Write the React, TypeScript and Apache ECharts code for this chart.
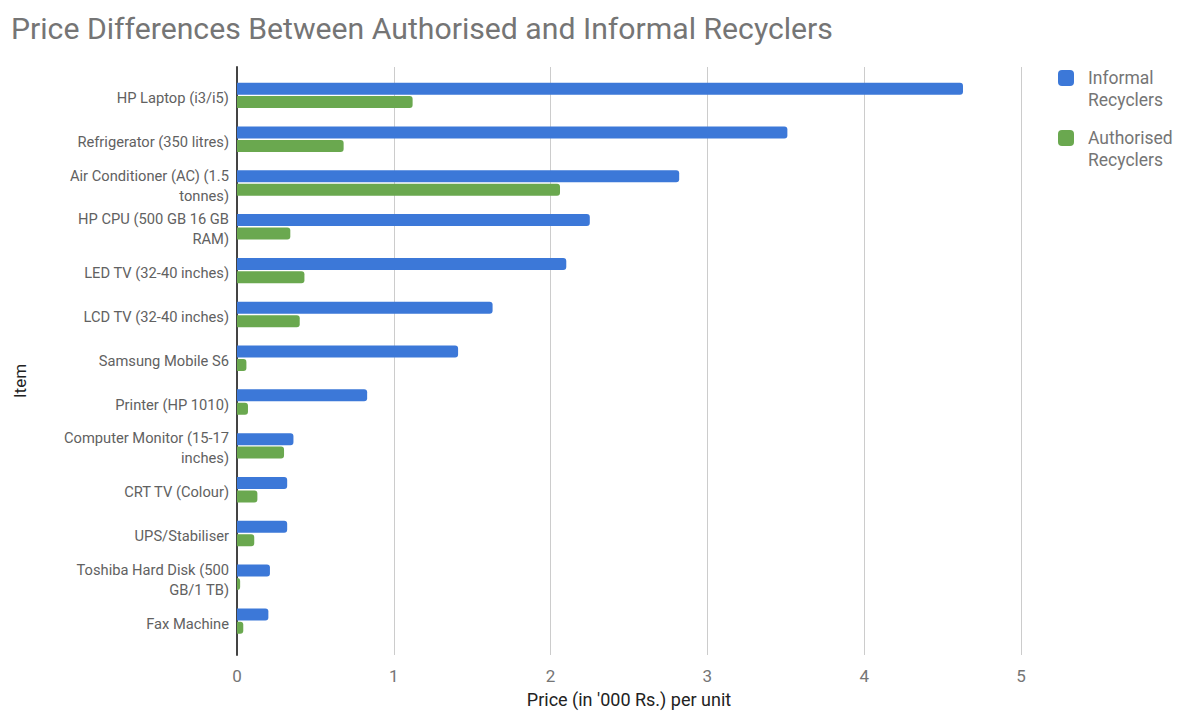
import React, { useEffect, useRef } from "react";
import * as echarts from "echarts";

const categories = [
  "HP Laptop (i3/i5)",
  "Refrigerator (350 litres)",
  "Air Conditioner (AC) (1.5\ntonnes)",
  "HP CPU (500 GB 16 GB\nRAM)",
  "LED TV (32-40 inches)",
  "LCD TV (32-40 inches)",
  "Samsung Mobile S6",
  "Printer (HP 1010)",
  "Computer Monitor (15-17\ninches)",
  "CRT TV (Colour)",
  "UPS/Stabiliser",
  "Toshiba Hard Disk (500\nGB/1 TB)",
  "Fax Machine",
];

const informal = [4.63, 3.51, 2.82, 2.25, 2.1, 1.63, 1.41, 0.83, 0.36, 0.32, 0.32, 0.21, 0.2];
const authorised = [1.12, 0.68, 2.06, 0.34, 0.43, 0.4, 0.06, 0.07, 0.3, 0.13, 0.11, 0.02, 0.04];

const xTicks = [0, 1, 2, 3, 4, 5];

const FONT = "Roboto";

export default function App() {
  const ref = useRef<HTMLDivElement>(null);
  useEffect(() => {
    if (!ref.current) return;
    const chart = echarts.init(ref.current, undefined, { renderer: "svg" });
    const legendText = {
      fontFamily: FONT,
      fontSize: 17.5,
      color: "#757575",
      lineHeight: 22,
      padding: [0, 0, 0, 9],
    };
    const legendFormatter = (name: string) => " \n" + name.replace(" ", "\n");
    chart.setOption({
      animation: false,
      textStyle: { fontFamily: FONT },
      title: {
        text: "Price Differences Between Authorised and Informal Recyclers",
        left: 6,
        top: 8,
        textStyle: { fontFamily: FONT, fontSize: 30.2, fontWeight: "normal", color: "#757575" },
      },
      legend: [
        {
          data: ["Informal Recyclers"],
          orient: "vertical",
          left: 1053,
          top: 40,
          itemWidth: 16,
          itemHeight: 16,
          icon: "roundRect",
          formatter: legendFormatter,
          textStyle: legendText,
        },
        {
          data: ["Authorised Recyclers"],
          orient: "vertical",
          left: 1053,
          top: 100,
          itemWidth: 16,
          itemHeight: 16,
          icon: "roundRect",
          formatter: legendFormatter,
          textStyle: legendText,
        },
      ],
      grid: [
        { left: 237, right: 163, top: 73.5, bottom: 67.5, containLabel: false },
        { left: 237, right: 163, top: 67, bottom: 58, containLabel: false },
      ],
      xAxis: [
        {
          type: "value",
          gridIndex: 0,
          min: xTicks[0],
          max: xTicks[xTicks.length - 1],
          interval: 1,
          name: "Price (in '000 Rs.) per unit",
          nameLocation: "middle",
          nameGap: 47,
          nameTextStyle: { fontFamily: FONT, fontSize: 18, color: "#222" },
          axisLine: { show: false },
          axisTick: { show: false },
          axisLabel: { fontFamily: FONT, fontSize: 17, color: "#757575", margin: 24 },
          splitLine: { show: false },
        },
        {
          type: "value",
          gridIndex: 1,
          min: xTicks[0],
          max: xTicks[xTicks.length - 1],
          interval: 1,
          axisLine: { show: false },
          axisTick: { show: false },
          axisLabel: { show: false },
          splitLine: { lineStyle: { color: "#cccccc" } },
        },
      ],
      yAxis: [
        {
          type: "category",
          gridIndex: 0,
          inverse: true,
          data: categories,
          axisLine: { show: false },
          axisTick: { show: false },
          axisLabel: {
            fontFamily: FONT,
            fontSize: 14.7,
            color: "#616161",
            margin: 8,
            lineHeight: 20,
            align: "right",
            formatter: (v: string) =>
              v
                .split("\n")
                .map((s) => `{a|${s}}`)
                .join("\n"),
            rich: {
              a: {
                fontFamily: FONT,
                fontSize: 14.7,
                color: "#616161",
                lineHeight: 20,
                padding: [5, 0, 0, 0],
              },
            },
          },
        },
        {
          type: "value",
          gridIndex: 1,
          min: 0,
          max: 1,
          axisLine: { show: true, lineStyle: { color: "#444", width: 2 } },
          axisTick: { show: false },
          axisLabel: { show: false },
          splitLine: { show: false },
        },
      ],
      graphic: [
        {
          type: "text",
          x: 20,
          y: 381,
          rotation: Math.PI / 2,
          style: {
            text: "Item",
            font: `17px ${FONT}`,
            fill: "#222",
            align: "center",
            verticalAlign: "middle",
          },
        },
      ],
      series: [
        {
          name: "Informal Recyclers",
          type: "bar",
          xAxisIndex: 0,
          yAxisIndex: 0,
          data: informal,
          barWidth: 12,
          barGap: "12%",
          itemStyle: { color: "#3c78d8", borderRadius: [0, 3, 3, 0] },
        },
        {
          name: "Authorised Recyclers",
          type: "bar",
          xAxisIndex: 0,
          yAxisIndex: 0,
          data: authorised,
          barWidth: 12,
          barGap: "12%",
          itemStyle: { color: "#6aa84f", borderRadius: [0, 3, 3, 0] },
        },
      ],
    });
    return () => chart.dispose();
  }, []);
  return (
    <div
      ref={ref}
      style={{ position: "absolute", left: 0, top: 0, width: 1184, height: 713 }}
    />
  );
}
